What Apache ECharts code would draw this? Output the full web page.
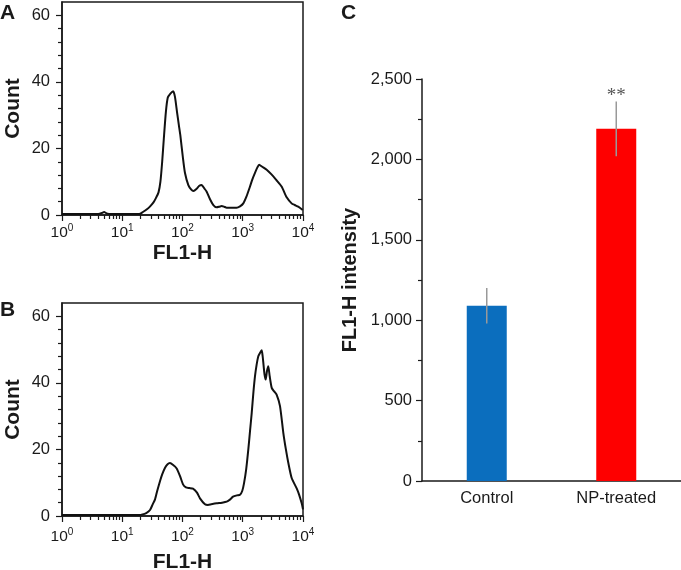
<!DOCTYPE html>
<html>
<head>
<meta charset="utf-8">
<script src="https://cdn.jsdelivr.net/npm/echarts@6/dist/echarts.min.js"></script>
<style>
  html, body { margin: 0; padding: 0; background: #fff; }
  #chart { width: 681px; height: 570px; }
</style>
</head>
<body>
<div id="chart"></div>
<script>
// panel A: FL1-H histogram, untreated cells  [FL1-H, count]
const histA = [
  [1, 0.3], [2, 0.3], [4, 0.3], [4.6, 0.6], [5, 0.9], [5.5, 0.5], [6.5, 0.3], [10, 0.3],
  [15, 0.3], [19, 0.3], [22, 0.9], [26, 1.8], [29, 2.6], [33, 3.8], [36, 5], [40, 6.8],
  [43, 10], [46, 16], [49, 23], [53, 31], [57, 35.3], [63, 36.5], [70, 37.2], [75, 35.5],
  [81, 31], [87, 27], [92, 24], [101, 17.6], [110, 12.6], [125, 9], [140, 7.6], [152, 7.2],
  [170, 7.8], [190, 8.8], [208, 9], [230, 8], [252, 7], [285, 4.8], [325, 3], [370, 2.3],
  [410, 2.5], [447, 2.7], [490, 2.5], [540, 2.2], [650, 2.2], [789, 2.2], [900, 2.6],
  [1022, 3.5], [1150, 5.5], [1316, 8.5], [1450, 10.8], [1590, 12.6], [1750, 14.3],
  [1870, 15.1], [2100, 14.5], [2494, 13.6], [3000, 12.2], [3620, 10.5], [4440, 8.5],
  [5360, 5.3], [6470, 3.5], [7300, 3.0], [8330, 2.5], [9890, 1.5]
];

// panel B: FL1-H histogram, NP-treated cells
const histB = [
  [1, 0.3], [10, 0.3], [19.6, 0.3], [21, 0.4], [25, 0.9], [28.9, 1.8], [32, 3.5], [35, 5],
  [38, 7.5], [42.4, 10.5], [46, 12.5], [51.3, 14.5], [56, 15.5], [62, 15.9], [70, 15.3],
  [80, 14.3], [91, 12], [102, 9.5], [114, 8.6], [130, 8.4], [149, 8.2], [174, 7], [195, 5.3],
  [236, 3.5], [265, 3.3], [300, 3.5], [370, 3.8], [450, 4], [542, 4.3], [620, 5], [689, 5.8],
  [800, 6.2], [900, 6.4], [980, 7.5], [1049, 9.8], [1140, 14], [1237, 20], [1320, 25.5],
  [1409, 31], [1500, 37], [1597, 42], [1700, 45.5], [1812, 48], [1930, 49], [2063, 49.8],
  [2140, 48], [2210, 45.5], [2300, 42.5], [2404, 41], [2520, 43.5], [2655, 45], [2800, 42],
  [3025, 38.5], [3300, 37.5], [3661, 36.4], [4153, 33], [4712, 25], [5200, 20], [5701, 16],
  [6490, 11.4], [7855, 8.3], [8584, 6.5], [9513, 3.8], [10000, 2]
];

const countTicks = [0, 20, 40, 60];
const countMinorTicks = [4, 8, 12, 16, 24, 28, 32, 36, 44, 48, 52, 56];
const decades = [0, 1, 2, 3];

// panel C: mean FL1-H intensity
const groups = ['Control', 'NP-treated'];
const meanIntensity = [1090, 2190];
const sdIntensity = [110, 170];
const significance = ['', '**'];
const barColors = ['#0B6EBE', '#FE0000'];

const FONT = '"Liberation Sans", Arial, sans-serif';
const INK = '#1a1a1a';
const axisLine = { lineStyle: { color: INK, width: 1.5 } };

// log minor ticks (2..9 in each decade), in log10 units for the helper axis
const logMinor = [];
decades.forEach(d => {
  for (let k = 2; k <= 9; k++) logMinor.push(d + Math.log10(k));
});

const chart = echarts.init(document.getElementById('chart'));

const grids = [];
const xAxes = [];
const yAxes = [];
const series = [];

function histPanel(top, data, labelMargin, nameGap) {
  const gi = grids.length;
  grids.push({
    left: 62, top: top, width: 241, height: 213,
    show: true, borderColor: INK, borderWidth: 1.5,
    outerBoundsMode: 'none', containLabel: false
  });
  const xi = xAxes.length;
  xAxes.push({
    gridIndex: gi, type: 'log', logBase: 10, min: 1, max: 10000,
    position: 'bottom',
    axisLine: axisLine,
    axisTick: { length: 6, lineStyle: { color: INK, width: 1.2 } },
    splitLine: { show: false },
    axisLabel: {
      margin: labelMargin,
      formatter: v => '{b|10}{s|' + Math.round(Math.log10(v)) + '}',
      rich: {
        b: { fontSize: 15.5, fontFamily: FONT, color: INK, lineHeight: 20 },
        s: { fontSize: 10, fontFamily: FONT, color: INK, lineHeight: 10, verticalAlign: 'top' }
      }
    },
    name: 'FL1-H', nameLocation: 'middle', nameGap: nameGap,
    nameTextStyle: { fontSize: 21, fontWeight: 'bold', fontFamily: FONT, color: INK }
  });
  xAxes.push({
    gridIndex: gi, type: 'value', min: 0, max: 4, position: 'bottom',
    axisLine: { show: false },
    axisLabel: { show: false },
    splitLine: { show: false },
    axisTick: { show: true, customValues: logMinor, length: 4, lineStyle: { color: INK, width: 1.2 } }
  });
  const yi = yAxes.length;
  yAxes.push({
    gridIndex: gi, type: 'value', min: 0, max: 64, position: 'left',
    axisLine: axisLine,
    axisTick: { customValues: countTicks, length: 6, lineStyle: { color: INK, width: 1.2 } },
    axisLabel: { customValues: countTicks, fontSize: 16.5, fontFamily: FONT, color: INK, margin: 12 },
    splitLine: { show: false },
    name: 'Count', nameLocation: 'middle', nameGap: 38,
    nameTextStyle: { fontSize: 21, fontWeight: 'bold', fontFamily: FONT, color: INK }
  });
  yAxes.push({
    gridIndex: gi, type: 'value', min: 0, max: 64, position: 'left',
    axisLine: { show: false },
    axisLabel: { show: false },
    splitLine: { show: false },
    axisTick: { show: true, customValues: countMinorTicks, length: 4, lineStyle: { color: INK, width: 1.2 } }
  });
  series.push({
    type: 'line', xAxisIndex: xi, yAxisIndex: yi,
    data: data, showSymbol: false, smooth: 0.2,
    lineStyle: { color: '#111', width: 2 },
    silent: true, animation: false
  });
}

histPanel(2, histA, 8, 28);
histPanel(303, histB, 11, 36);

// panel C
const gC = grids.length;
grids.push({ left: 422, top: 79, width: 259, height: 402, outerBoundsMode: 'none', containLabel: false });
const xC = xAxes.length;
xAxes.push({
  gridIndex: gC, type: 'category', data: groups,
  axisLine: axisLine,
  axisTick: { show: false },
  axisLabel: { fontSize: 16.5, fontFamily: FONT, color: INK, margin: 9 }
});
const yC = yAxes.length;
yAxes.push({
  gridIndex: gC, type: 'value', min: 0, max: 2500, interval: 500,
  axisLine: { show: true, lineStyle: { color: INK, width: 1.5 } },
  axisTick: { show: true, length: 6, lineStyle: { color: INK, width: 1.2 } },
  minorTick: { show: true, splitNumber: 2, length: 4, lineStyle: { color: INK, width: 1.2 } },
  splitLine: { show: false },
  axisLabel: { fontSize: 16.5, fontFamily: FONT, color: INK, margin: 10 },
  name: 'FL1-H intensity', nameLocation: 'middle', nameGap: 62,
  nameTextStyle: { fontSize: 20, fontWeight: 'bold', fontFamily: FONT, color: INK }
});
series.push({
  type: 'bar', xAxisIndex: xC, yAxisIndex: yC, barWidth: 40,
  data: meanIntensity.map((v, i) => ({ value: v, itemStyle: { color: barColors[i] } })),
  animation: false
});
series.push({
  type: 'custom', xAxisIndex: xC, yAxisIndex: yC, z: 5,
  data: meanIntensity.map((v, i) => [i, v - sdIntensity[i], v + sdIntensity[i]]),
  renderItem: (params, api) => {
    const x = api.value(0);
    const lo = api.coord([x, api.value(1)]);
    const hi = api.coord([x, api.value(2)]);
    const children = [{
      type: 'line',
      shape: { x1: lo[0], y1: lo[1], x2: hi[0], y2: hi[1] },
      style: { stroke: '#999', lineWidth: 1.5 }
    }];
    const mark = significance[params.dataIndex];
    if (mark) {
      children.push({
        type: 'text', x: hi[0], y: hi[1] + 4,
        style: { text: mark, fill: '#555', font: '19px "Liberation Serif", serif', align: 'center', verticalAlign: 'bottom' }
      });
    }
    return { type: 'group', children: children };
  },
  animation: false
});

const panelTitle = (text, left, top) => ({
  text: text, left: left, top: top, padding: 0,
  textStyle: { fontSize: 21, fontWeight: 'bold', fontFamily: FONT, color: INK }
});

chart.setOption({
  backgroundColor: '#fff',
  animation: false,
  title: [panelTitle('A', 0, 3), panelTitle('B', 0, 300), panelTitle('C', 341, 3)],
  grid: grids,
  xAxis: xAxes,
  yAxis: yAxes,
  series: series
});
</script>
</body>
</html>
